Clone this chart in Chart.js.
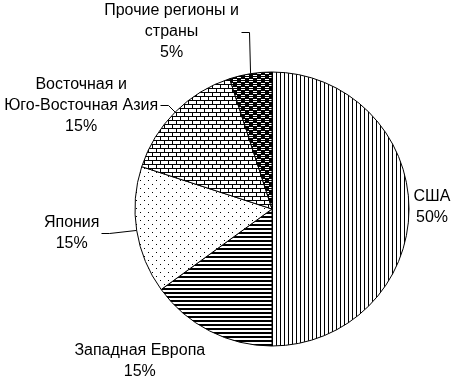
<!DOCTYPE html>
<html>
<head>
<meta charset="utf-8">
<script src="https://cdn.jsdelivr.net/npm/chart.js@4"></script>
<style>
  html, body { margin: 0; padding: 0; background: #fff; }
  #wrap { width: 456px; height: 380px; }
</style>
</head>
<body>
<div id="wrap"><canvas id="pieChart" width="456" height="380"></canvas></div>
<script>
// data
const categories = ['США', 'Западная Европа', 'Япония', 'Восточная и Юго-Восточная Азия', 'Прочие регионы и страны'];
const shares = [50, 15, 15, 15, 5];
const labelLines = [
  ['США'],
  ['Западная Европа'],
  ['Япония'],
  ['Восточная и', 'Юго-Восточная Азия'],
  ['Прочие регионы и', 'страны']
];

// black & white hatch fills
function makePattern(size, draw) {
  const c = document.createElement('canvas');
  c.width = size; c.height = size;
  const g = c.getContext('2d');
  g.fillStyle = '#fff';
  g.fillRect(0, 0, size, size);
  g.fillStyle = '#000';
  draw(g);
  return document.getElementById('pieChart').getContext('2d').createPattern(c, 'repeat');
}

const vertical = makePattern(4, g => g.fillRect(0, 0, 1, 4));
const horizontal = makePattern(4, g => g.fillRect(0, 0, 4, 2));
const dots = makePattern(8, g => { g.fillRect(0, 0, 1, 1); g.fillRect(4, 4, 1, 1); });
const bricks = makePattern(8, g => {
  g.fillRect(0, 0, 8, 1);
  g.fillRect(0, 4, 8, 1);
  g.fillRect(0, 1, 1, 3);
  g.fillRect(4, 5, 1, 3);
});
const dashes = makePattern(8, g => {
  g.fillRect(0, 0, 8, 8);
  g.fillStyle = '#fff';
  g.fillRect(1, 1, 4, 1);
  g.fillRect(5, 5, 3, 1);
  g.fillRect(0, 5, 1, 1);
  g.fillRect(5, 3, 3, 1);
  g.fillRect(0, 3, 1, 1);
  g.fillRect(1, 7, 4, 1);
});

// where each label block sits relative to its slice's edge point
const labelPlacement = [
  { dx: 23, dy: -2, leader: false },
  { dx: -70, dy: 30, leader: false },
  { dx: -65, dy: 3, leader: true },
  { dx: -94, dy: -7, leader: true },
  { dx: -79, dy: -42, leader: true }
];

const outsideLabels = {
  id: 'outsideLabels',
  afterDatasetsDraw(chart) {
    const ctx = chart.ctx;
    const arcs = chart.getDatasetMeta(0).data;
    const total = shares.reduce((a, b) => a + b, 0);
    ctx.save();
    ctx.font = '16px "Liberation Sans", Arial, sans-serif';
    ctx.fillStyle = '#000';
    ctx.strokeStyle = '#000';
    ctx.lineWidth = 1;
    ctx.textAlign = 'center';
    ctx.textBaseline = 'middle';
    const lh = 21;
    arcs.forEach((arc, i) => {
      const mid = (arc.startAngle + arc.endAngle) / 2;
      const ex = arc.x + Math.cos(mid) * arc.outerRadius;
      const ey = arc.y + Math.sin(mid) * arc.outerRadius;
      const place = labelPlacement[i];
      const lines = labelLines[i].concat([Math.round(shares[i] / total * 100) + '%']);
      const cx = ex + place.dx;
      const cy = ey + place.dy;
      let w = 0;
      lines.forEach((t, k) => {
        w = Math.max(w, ctx.measureText(t).width);
        ctx.fillText(t, cx, cy + (k - (lines.length - 1) / 2) * lh);
      });
      if (place.leader) {
        const sx = Math.round(cx + w / 2 + 2) + 0.5;
        const sy = Math.round(cy) + 0.5;
        ctx.beginPath();
        ctx.moveTo(sx, sy);
        ctx.lineTo(sx + 8, sy);
        ctx.lineTo(ex, ey);
        ctx.stroke();
      }
    });
    ctx.restore();
  }
};

new Chart(document.getElementById('pieChart'), {
  type: 'pie',
  data: {
    labels: categories,
    datasets: [{
      data: shares,
      backgroundColor: [vertical, horizontal, dots, bricks, dashes],
      borderColor: '#000',
      borderWidth: 1
    }]
  },
  options: {
    responsive: false,
    animation: false,
    radius: 137,
    layout: { padding: { left: 88, top: 38 } },
    plugins: {
      legend: { display: false },
      tooltip: { enabled: false }
    }
  },
  plugins: [outsideLabels]
});
</script>
</body>
</html>
